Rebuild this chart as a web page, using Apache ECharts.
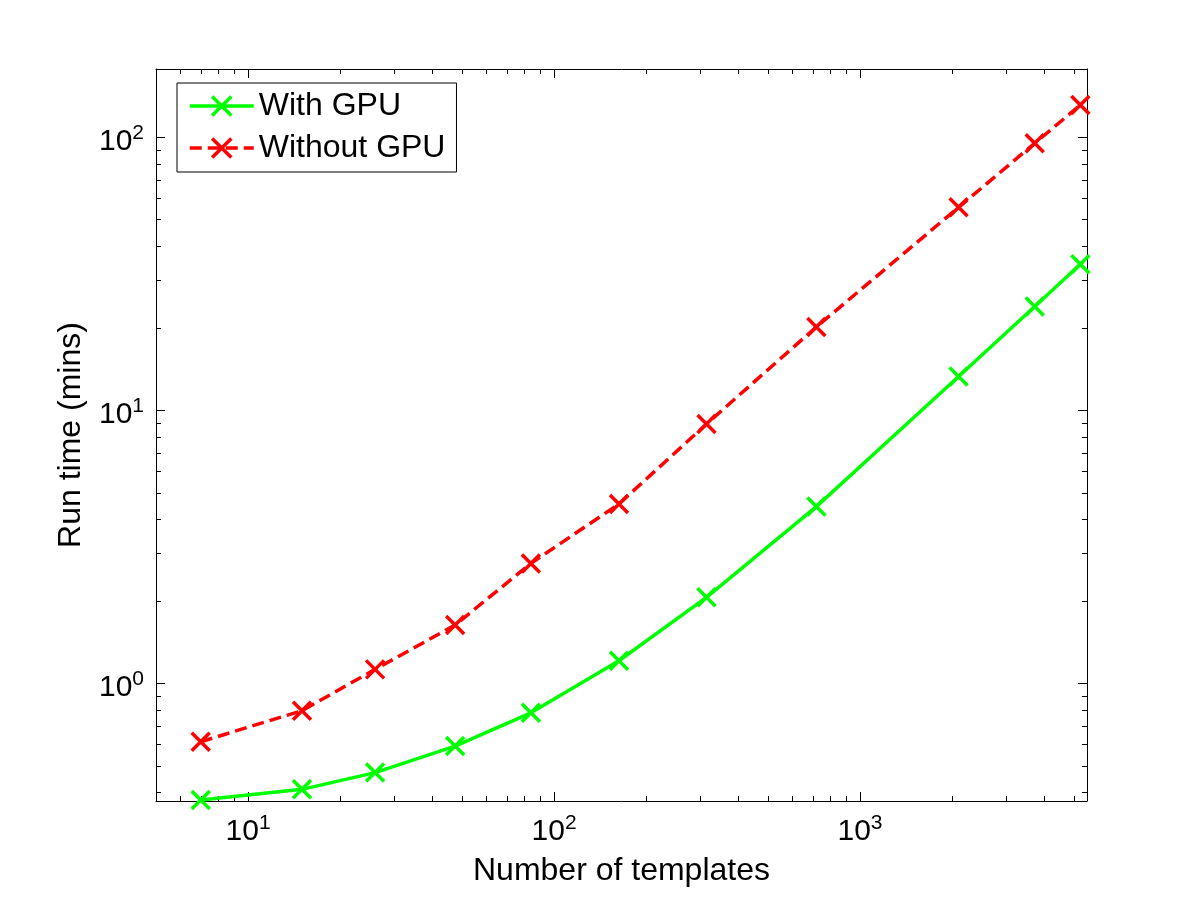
<!DOCTYPE html>
<html>
<head>
<meta charset="utf-8">
<title>Run time vs number of templates</title>
<script src="https://cdn.jsdelivr.net/npm/echarts@6/dist/echarts.min.js"></script>
<style>
  html, body { margin: 0; padding: 0; background: #fff; }
  #chart { width: 1201px; height: 900px; }
</style>
</head>
<body>
<div id="chart"></div>
<script>
// 模板数量（横轴）
var templates = [7, 15, 26, 47.5, 84, 163, 315, 720, 2100, 3725, 5250];
// 运行时间（分钟）
var withGpu = [0.374, 0.409, 0.471, 0.589, 0.780, 1.21, 2.065, 4.44, 13.3, 24.0, 34.3];
var withoutGpu = [0.611, 0.794, 1.125, 1.635, 2.75, 4.54, 8.91, 20.2, 55.4, 95.1, 131.3];
// 对数轴上的次刻度
var xMinorTicks = [6, 7, 8, 9, 20, 30, 40, 50, 60, 70, 80, 90,
  200, 300, 400, 500, 600, 700, 800, 900, 2000, 3000, 4000, 5000];
var yMinorTicks = [0.4, 0.5, 0.6, 0.7, 0.8, 0.9, 2, 3, 4, 5, 6, 7, 8, 9,
  20, 30, 40, 50, 60, 70, 80, 90];

var FONT = '"Liberation Sans", Arial, Helvetica, sans-serif';
var X_MIN = 5, X_MAX = 5520;
var Y_MIN = 0.3707, Y_MAX = 177.9;
var CROSS = 'path://M0,0L10,10M10,0L0,10';
var GREEN = '#00ff00', RED = '#ff0000';

// 10^n 形式的刻度标签
function powerLabel(v) {
  var e = Math.round(Math.log(v) / Math.LN10);
  if (Math.abs(Math.pow(10, e) - v) > 1e-6 * v) return '';
  return '{b|10}{s|' + e + '}';
}
var labelRich = {
  b: { fontSize: 30, fontFamily: FONT, color: '#000', lineHeight: 30, padding: [8, 0, 0, 0] },
  s: { fontSize: 21, fontFamily: FONT, color: '#000', lineHeight: 21, verticalAlign: 'top' }
};

function logAxis(extra) {
  var axis = {
    type: 'log',
    logBase: 10,
    axisLine: { show: true, lineStyle: { color: '#000', width: 1 } },
    axisTick: { show: true, inside: true, length: 9, lineStyle: { color: '#000', width: 1 } },
    splitLine: { show: false },
    axisLabel: { show: false }
  };
  Object.keys(extra).forEach(function (k) { axis[k] = extra[k]; });
  return axis;
}

// 次刻度：上下（或左右）两边各画一条短线
function minorTicks(vertical) {
  return function (params, api) {
    var cs = params.coordSys;
    var style = { stroke: '#000', lineWidth: 1 };
    var p, lines;
    if (!vertical) {
      p = Math.round(api.coord([api.value(0), 1])[0]) + 0.5;
      lines = [
        { x1: p, y1: cs.y + cs.height, x2: p, y2: cs.y + cs.height - 5 },
        { x1: p, y1: cs.y, x2: p, y2: cs.y + 5 }
      ];
    } else {
      p = Math.round(api.coord([10, api.value(1)])[1]) + 0.5;
      lines = [
        { x1: cs.x, y1: p, x2: cs.x + 5, y2: p },
        { x1: cs.x + cs.width, y1: p, x2: cs.x + cs.width - 5, y2: p }
      ];
    }
    return {
      type: 'group',
      children: lines.map(function (s) { return { type: 'line', shape: s, style: style }; })
    };
  };
}

var chart = echarts.init(document.getElementById('chart'), null, { renderer: 'canvas' });
chart.setOption({
  backgroundColor: '#fff',
  animation: false,
  textStyle: { fontFamily: FONT },
  grid: { left: 156, right: 114, top: 69, bottom: 99, containLabel: false },
  legend: {
    data: [
      {
        name: 'With GPU',
        lineStyle: { color: GREEN, width: 3.5 },
        itemStyle: { color: GREEN, borderColor: GREEN, borderWidth: 3.5 }
      },
      {
        name: 'Without GPU',
        lineStyle: { color: RED, width: 3.5, type: [12, 6] },
        itemStyle: { color: RED, borderColor: RED, borderWidth: 3.5 }
      }
    ],
    orient: 'vertical',
    left: 177,
    top: 83,
    padding: [7, 11, 8, 11],
    itemGap: 10,
    itemWidth: 64,
    itemHeight: 24,
    borderColor: '#000',
    borderWidth: 1,
    backgroundColor: '#fff',
    textStyle: { fontSize: 32, fontFamily: FONT, color: '#000' }
  },
  xAxis: [
    logAxis({
      min: X_MIN, max: X_MAX, position: 'bottom',
      name: 'Number of templates',
      nameLocation: 'middle',
      nameGap: 54,
      nameTextStyle: { fontSize: 32, fontFamily: FONT, color: '#000' },
      axisLabel: {
        show: true, margin: 12, formatter: powerLabel, rich: labelRich,
        showMinLabel: false, showMaxLabel: false
      }
    }),
    logAxis({ min: X_MIN, max: X_MAX, position: 'top' })
  ],
  yAxis: [
    logAxis({
      min: Y_MIN, max: Y_MAX, position: 'left',
      name: 'Run time (mins)',
      nameLocation: 'middle',
      nameGap: 69,
      nameTextStyle: { fontSize: 32, fontFamily: FONT, color: '#000' },
      axisLabel: {
        show: true, margin: 12, formatter: powerLabel, rich: labelRich,
        showMinLabel: false, showMaxLabel: false
      }
    }),
    logAxis({ min: Y_MIN, max: Y_MAX, position: 'right' })
  ],
  series: [
    {
      name: 'With GPU',
      type: 'line',
      data: templates.map(function (t, i) { return [t, withGpu[i]]; }),
      symbol: CROSS,
      symbolSize: 18,
      showAllSymbol: true,
      lineStyle: { color: GREEN, width: 3.5 },
      itemStyle: { color: GREEN, borderColor: GREEN, borderWidth: 3.5 },
      z: 3
    },
    {
      name: 'Without GPU',
      type: 'line',
      data: templates.map(function (t, i) { return [t, withoutGpu[i]]; }),
      symbol: CROSS,
      symbolSize: 18,
      showAllSymbol: true,
      lineStyle: { color: RED, width: 3.5, type: [12, 6] },
      itemStyle: { color: RED, borderColor: RED, borderWidth: 3.5 },
      z: 3
    },
    {
      type: 'custom',
      silent: true,
      renderItem: minorTicks(false),
      data: xMinorTicks.map(function (v) { return [v, 1]; }),
      z: 1
    },
    {
      type: 'custom',
      silent: true,
      renderItem: minorTicks(true),
      data: yMinorTicks.map(function (v) { return [10, v]; }),
      z: 1
    }
  ]
});
</script>
</body>
</html>
